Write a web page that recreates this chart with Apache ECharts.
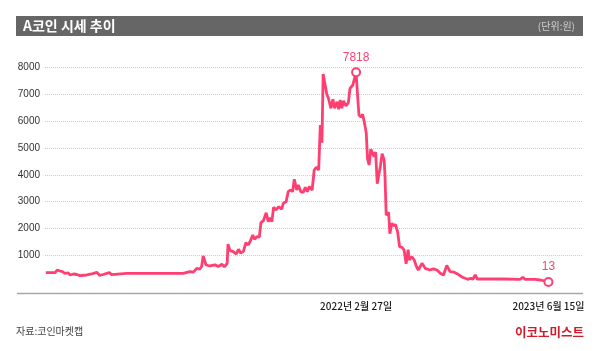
<!DOCTYPE html>
<html>
<head>
<meta charset="utf-8">
<script src="https://cdn.jsdelivr.net/npm/echarts@6/dist/echarts.min.js"></script>
<style>
  html, body { margin: 0; padding: 0; background: #fff; }
  #chart { width: 600px; height: 351px; }
</style>
</head>
<body>
<div id="chart"></div>
<script>
// days since 2020-01-24
const days = [
  2, 25, 30, 37, 43, 49, 57, 62, 70, 78, 86, 103, 115, 127, 134, 143, 158, 164, 201, 258,
  340, 349, 357, 365, 373, 380, 385, 389, 396, 406, 418, 426, 435, 441, 448, 450, 455, 463, 470, 476,
  481, 488, 494, 500, 504, 511, 515, 521, 527, 531, 537, 544, 549, 554, 558, 562, 568, 575, 582, 586,
  593, 598, 604, 609, 613, 619, 623, 629, 635, 640, 645, 650, 657, 662, 667, 673, 677, 681, 684, 693,
  697, 699, 703, 708, 712, 718, 722, 726, 730, 734, 740, 746, 750, 757, 765, 768, 772, 777, 781, 785,
  790, 793, 797, 801, 806, 809, 813, 817, 821, 825, 829, 834, 836, 839, 842, 845, 848, 853, 857, 862,
  867, 872, 878, 883, 888, 893, 896, 902, 908, 913, 918, 927, 935, 947, 955, 964, 968, 972, 980, 988,
  996, 1005, 1009, 1017, 1025, 1033, 1041, 1047, 1052, 1058, 1063, 1086, 1127, 1168, 1175, 1181, 1205, 1218, 1238
];
const prices = [
  357, 357, 458, 420, 395, 335, 350, 272, 309, 290, 246, 272, 309, 372, 260, 290, 357, 283, 335, 335,
  335, 372, 400, 380, 520, 484, 580, 979, 644, 607, 650, 590, 670, 580, 700, 1420, 1176, 1139, 1053, 1228,
  1090, 1150, 1473, 1390, 1511, 1760, 1600, 1697, 1680, 2218, 2292, 2590, 2255, 2400, 2255, 2790, 2700, 2813, 2720, 2940,
  3000, 3372, 3434, 3372, 3833, 3434, 3620, 3372, 3340, 3535, 3372, 3560, 3434, 4179, 4279, 4179, 5853, 5195, 7751, 7000,
  6847, 6783, 6474, 6809, 6474, 6721, 6437, 6783, 6474, 6750, 6560, 6683, 7219, 7342, 7818, 7092, 6226, 6150, 6250, 5977,
  5560, 4600, 4365, 4950, 4800, 4674, 4850, 3670, 3700, 4350, 4790, 4551, 4000, 2500, 2450, 2600, 1810, 2200, 2100, 2150,
  1883, 1325, 1300, 1202, 690, 1210, 830, 950, 830, 600, 458, 707, 520, 458, 500, 458, 440, 335, 272, 630,
  395, 380, 350, 290, 200, 150, 112, 150, 112, 272, 123, 123, 123, 110, 186, 110, 110, 86, 13
];
const yTicks = [1000, 2000, 3000, 4000, 5000, 6000, 7000, 8000];
const dateTicks = [765, 1238];
const dateLabels = ['2022년 2월 27일', '2023년 6월 15일'];
const peakPoint = [765, 7818];
const lastPoint = [1238, 13];

const pink = '#ff3f72';
const krFont = '"Noto Sans CJK KR", sans-serif';

const chart = echarts.init(document.getElementById('chart'));

const seriesData = days.map((d, i) => [d, prices[i]]);

chart.setOption({
  animation: false,
  backgroundColor: '#fff',
  grid: { left: 45, right: 17, top: 67.3, bottom: 68.7 },
  xAxis: {
    type: 'value',
    min: 0,
    max: 1323,
    offset: 11,
    axisLine: { show: false },
    axisTick: { show: false },
    splitLine: { show: false },
    axisLabel: {
      customValues: dateTicks,
      formatter: (v) => dateLabels[dateTicks.indexOf(v)] || '',
      fontSize: 10,
      fontWeight: 500,
      color: '#1a1a1a',
      fontFamily: krFont,
      margin: 8
    }
  },
  yAxis: {
    type: 'value',
    min: 0,
    max: 8000,
    interval: 1000,
    axisLine: { show: false },
    axisTick: { show: false },
    axisLabel: {
      formatter: (v) => (yTicks.includes(v) ? String(v) : ''),
      fontSize: 10,
      color: '#333',
      fontFamily: '"Liberation Sans", Arial, sans-serif',
      margin: 5
    },
    splitLine: {
      showMinLine: false,
      lineStyle: { type: 'dotted', color: '#cccccc', width: 1 }
    }
  },
  series: [
    {
      type: 'line',
      data: seriesData,
      showSymbol: false,
      clip: false,
      lineStyle: { color: pink, width: 2.8 },
      itemStyle: { color: pink },
      markLine: {
        silent: true,
        symbol: 'none',
        label: { show: false },
        lineStyle: { type: 'dashed', color: '#aaaaaa', width: 1 },
        data: [[{ coord: peakPoint }, { coord: [peakPoint[0], -410] }]]
      },
      markPoint: {
        symbol: 'circle',
        symbolSize: 8,
        itemStyle: { color: '#fff', borderColor: pink, borderWidth: 2 },
        label: {
          show: true,
          position: 'top',
          distance: 4,
          color: pink,
          fontSize: 12,
          fontFamily: '"Liberation Sans", Arial, sans-serif',
          formatter: '{c}'
        },
        data: [
          { coord: peakPoint, value: peakPoint[1] },
          { coord: lastPoint, value: lastPoint[1] }
        ]
      }
    }
  ],
  graphic: [
    { type: 'rect', shape: { x: 16, y: 16, width: 567, height: 20 }, style: { fill: '#666666' }, z: 0 },
    { type: 'line', shape: { x1: 17, y1: 293.5, x2: 583, y2: 293.5 }, style: { stroke: '#a8a8a8', lineWidth: 1.5 } },
    { type: 'text', x: 23, y: 26, style: { text: 'A코인 시세 추이', fill: '#fff', font: 'bold 14px ' + krFont, verticalAlign: 'middle' } },
    { type: 'text', x: 575, y: 26, style: { text: '(단위:원)', fill: '#cfcfcf', font: '10px ' + krFont, align: 'right', verticalAlign: 'middle' } },
    { type: 'text', x: 16, y: 331, style: { text: '자료:코인마켓캡', fill: '#444', font: '10px ' + krFont, verticalAlign: 'middle' } },
    { type: 'text', x: 584, y: 332, style: { text: '이코노미스트', fill: '#d11a2a', font: 'bold 12.5px ' + krFont, align: 'right', verticalAlign: 'middle' } }
  ]
});
</script>
</body>
</html>
